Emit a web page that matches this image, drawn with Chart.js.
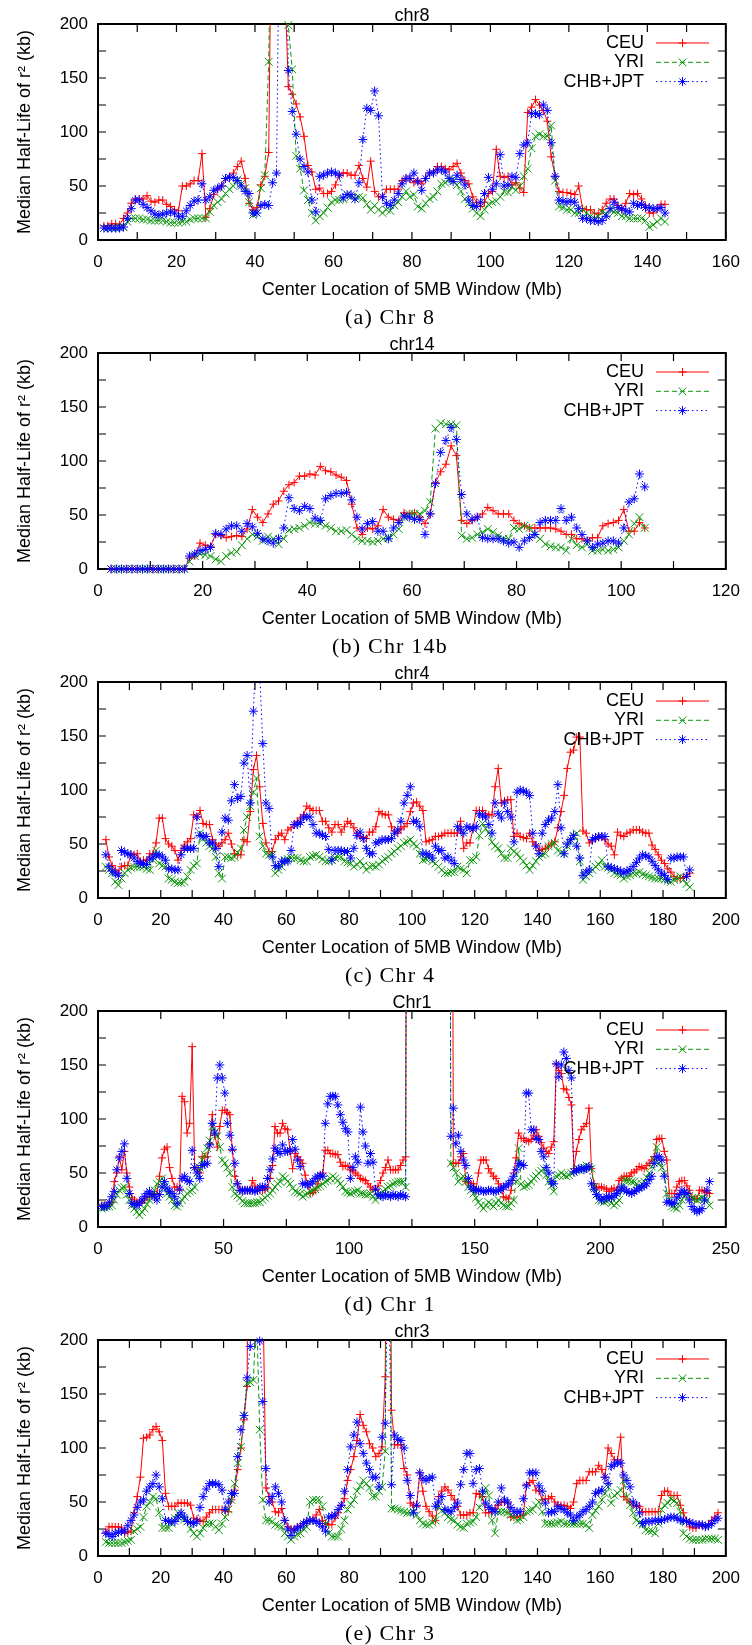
<!DOCTYPE html>
<html><head><meta charset="utf-8">
<script src="https://cdn.jsdelivr.net/npm/chart.js@4.4.1/dist/chart.umd.min.js"></script>
<style>
html,body{margin:0;padding:0;background:#fff;}
body{width:752px;height:1645px;overflow:hidden;}
canvas{display:block;}
</style></head>
<body>
<canvas id="p0" width="752" height="329"></canvas>
<canvas id="p1" width="752" height="329"></canvas>
<canvas id="p2" width="752" height="329"></canvas>
<canvas id="p3" width="752" height="329"></canvas>
<canvas id="p4" width="752" height="329"></canvas>
<script>
// ---------- shared text ----------
const xAxisLabel = "Center Location of 5MB Window (Mb)";
const yAxisLabel = "Median Half-Life of r\u00B2 (kb)";
const seriesNames = ["CEU", "YRI", "CHB+JPT"];
const yTicks = [0, 50, 100, 150, 200];

// ---------- chr8 (window centres start at 1.5 Mb, 1 Mb apart) ----------
const chr8Title = "chr8", chr8Caption = "(a) Chr 8";
const chr8XMax = 160, chr8XStep = 20, chr8XMinor = 10, chr8First = 1.5;
const chr8CEU = [13,13,15,15,14,20,25,34,38,38, 38,41,36,35,37,37,33,31,28,27, 50,50,52,55,55,80,21,29,42,47,
 50,57,58,62,68,73,57,34,28,30, 51,59,81,400,400,400,250,142,135,126, 114,96,69,63,47,48,43,43,45,51,
 60,62,62,60,60,69,57,49,73,45, 40,40,47,47,47,47,55,57,57,53, 55,52,57,62,63,68,68,66,65,68,
 71,62,55,52,40,35,31,35,43,45, 84,59,58,59,51,53,48,44,118,123, 130,125,120,110,77,59,45,44,44,43,
 42,50,29,28,28,25,24,28,34,38, 38,32,28,34,43,42,43,38,32,25, 25,29,33,33];
const chr8YRI = [11,11,11,11,12,12,17,20,20,20, 19,19,18,18,18,18,17,16,16,16, 17,17,19,20,20,20,20,26,32,35,
 38,43,47,50,56,52,48,35,23,25, 48,60,165,400,400,400,400,199,158,78, 66,46,37,25,18,22,25,30,35,37,
 37,38,42,40,38,40,39,33,28,32, 28,25,28,27,32,35,40,45,40,42, 31,29,34,38,40,45,52,53,56,55,
 51,45,38,34,29,25,22,28,33,35, 36,40,45,44,49,46,50,59,66,85, 96,98,96,96,106,55,31,30,28,28,
 25,25,28,25,22,20,22,26,24,28, 26,25,22,22,20,20,20,20,18,12, 14,17,20,17];
const chr8CHB = [11,11,11,11,11,12,20,29,37,37, 33,30,27,24,23,24,25,26,25,22, 22,27,32,36,37,52,37,40,46,48,
 50,57,58,58,55,50,45,43,25,25, 32,33,32,53,62,400,400,157,119,98, 75,68,63,37,26,59,60,62,63,62,
 60,39,42,42,38,53,93,122,120,138, 115,40,34,32,37,43,52,57,57,62, 54,46,57,62,62,65,65,63,57,54,
 60,56,51,37,32,31,35,43,58,47, 52,79,50,51,59,58,80,88,90,117, 117,116,125,120,90,59,37,36,35,36,
 35,29,20,20,18,18,17,18,22,29, 35,30,29,27,26,34,32,33,30,30, 29,29,30,25];

// ---------- chr14 ----------
const chr14Title = "chr14", chr14Caption = "(b) Chr 14b";
const chr14XMax = 120, chr14XStep = 20, chr14XMinor = 10, chr14First = 2.5;
const chr14CEU = [0,0,0,0,0,0,0,0,0,0, 0,0,0,0,0, 10,12,24,22,21,32,31,29,30,31, 30,37,55,48,43,51,60,63,72,78,
 80,86,86,88,87,95,91,90,87,85, 82,60,38,32,38,37,40,55,48,46, 45,52,51,52,48,42,51,80,90,97,
 114,105,45,42,45,48,51,57,54,51, 51,51,45,42,40,38,38,38,38,38, 37,35,32,32,28,28,26,29,29,40,
 42,43,45,55,35,35,43,38];
const chr14YRI = [0,0,0,0,0,0,0,0,0,0, 0,0,0,0,0, 7,12,14,13,12,9,7,12,15,16, 22,28,32,30,26,30,28,23,28,36,
 37,38,40,43,42,42,40,38,35,35, 36,32,28,26,26,25,26,28,29,32, 37,48,51,51,51,54,62,130,135,134,
 134,133,31,28,29,32,34,37,34,31, 28,28,38,37,40,38,32,28,23,21, 20,20,17,28,22,20,23,17,17,18,
 17,18,20,26,32,42,48,38];
const chr14CHB = [0,0,0,0,0,0,0,0,0,0, 0,0,0,0,0, 12,14,17,18,20,33,32,37,40,40, 35,42,39,33,28,26,24,28,38,66,
 56,54,58,56,47,45,65,68,70,70, 71,64,48,37,42,44,35,35,28,38, 43,49,48,46,46,32,51,79,108,119,
 131,120,69,51,46,48,29,28,28,28, 26,24,25,20,26,29,32,43,45,45, 45,56,45,48,38,32,26,20,23,24,
 26,26,24,38,62,65,88,76];

// ---------- chr4 ----------
const chr4Title = "chr4", chr4Caption = "(c) Chr 4";
const chr4XMax = 200, chr4XStep = 20, chr4XMinor = 10, chr4First = 2.5;
const chr4CEU = [54,38,30,26,23,29,30,30,40,40, 41,34,35,35,41,41,51,74,74,55, 50,48,44,35,44,49,52,55,77,75,
 81,69,68,68,54,50,48,51,54,60, 50,41,40,40,54,52,80,119,132,103, 69,51,43,43,54,58,60,54,63,65,
 68,71,74,77,85,83,81,81,81,71, 71,65,61,68,68,61,66,71,69,65, 60,57,56,55,61,61,66,80,78,77,
 77,66,62,60,64,66,69,80,88,89, 85,81,52,53,54,57,57,58,60,60, 60,60,60,71,46,51,51,65,81,81,
 81,78,77,77,103,120,88,90,91,91, 57,60,57,56,55,60,52,49,44,45, 46,48,50,52,65,80,95,120,135,137,
 149,149,62,60,51,53,55,56,57,54, 50,48,40,61,58,57,60,61,63,63, 63,61,60,60,49,45,40,35,32,27,
 24,20,18,18,19,20,23];
const chr4YRI = [29,26,23,15,12,18,23,26,28,29, 29,29,29,27,26,35,44,32,30,29, 18,17,15,14,14,15,20,26,30,32,
 60,55,51,48,46,38,23,18,38,38, 37,38,42,46,63,75,85,98,111,57, 48,41,40,40,23,26,29,35,36,37,
 37,37,35,34,34,38,39,40,38,36, 34,34,35,37,38,38,34,33,32,29, 31,34,30,26,29,30,29,31,34,36,
 38,41,43,46,48,51,52,54,50,48, 41,35,36,37,34,32,29,26,23,23, 24,24,29,27,26,23,35,35,38,58,
 69,64,60,52,48,46,41,37,37,46, 43,41,37,34,30,26,30,34,38,40, 41,48,50,51,44,42,41,48,52,57,
 60,34,17,20,23,26,29,31,35,29, 28,26,23,22,21,18,20,21,23,23, 24,22,21,20,19,18,18,18,17,16,
 15,17,18,20,17,13,10];
const chr4CHB = [40,29,25,23,21,44,42,41,40,37, 34,32,32,31,36,38,40,40,38,35, 27,27,26,26,40,46,46,46,46,75,
 58,57,57,51,51,46,29,61,74,72, 90,105,92,94,125,132,88,173,240,210, 143,88,83,38,30,29,34,34,34,44,
 68,68,70,75,75,75,68,60,60,58, 57,45,35,44,44,44,43,43,37,46, 58,61,55,46,41,41,51,52,54,54,
 54,55,60,63,71,88,95,103,71,71, 66,41,41,40,37,48,44,44,37,38, 35,32,66,63,60,66,65,64,66,78,
 76,75,68,60,88,78,74,88,80,75, 52,98,100,99,98,95,60,48,41,60, 68,72,74,80,105,65,41,50,54,58,
 48,37,21,24,26,54,56,57,57,57, 29,28,27,26,25,23,25,26,29,33, 37,40,39,38,34,30,26,23,21,17,
 37,37,38,38,38,20,26];

// ---------- chr1 ----------
const chr1Title = "Chr1", chr1Caption = "(d) Chr 1";
const chr1XMax = 250, chr1XStep = 50, chr1XMinor = 25, chr1First = 1.5;
const chr1CEU = [20,20,20,21,23,42,50,65,53,70, 50,37,27,25,23,23,23,25,28,28, 30,31,31,47,64,72,74,55,45,37,
 37,34,121,116,87,96,167,55,53,50, 65,65,65,77,104,85,74,93,108,108, 106,104,71,47,40,34,34,34,34,34,
 43,38,34,34,34,35,36,45,57,93, 87,87,96,91,90,70,54,68,65,62, 59,48,40,31,32,34,40,47,50,71,
 71,68,68,67,67,60,56,57,56,53, 52,50,48,45,44,43,40,37,35,34, 38,43,50,55,62,53,53,53,53,57,
 62,65,1000,1000,1000,1000,1000,1000,1000,1000, 1000,1000,1000,1000,1000,1000,1000,1000,1000,1000,
 59,59,59,65,68,42,41,40,40,34, 50,62,62,62,54,50,47,45,40,37, 28,27,26,34,50,64,87,82,82,80,
 79,81,85,90,84,78,73,70,68,74, 79,151,145,142,128,127,120,113,54,70, 81,90,93,96,110,54,40,36,37,37,
 36,35,33,35,36,34,43,45,47,47, 47,50,51,53,56,55,54,57,59,62, 65,81,82,82,70,62,31,31,31,37,
 42,43,43,38,34,28,26,26,34,34, 33,32,31];
const chr1YRI = [17,18,19,19,20,25,30,34,36,37, 30,25,20,17,14,11,14,17,21,25, 30,34,40,42,45,37,31,28,25,20,
 19,22,25,28,31,33,34,37,50,55, 62,67,73,80,93,88,84,74,62,59, 55,50,37,31,29,27,24,22,22,22,
 22,22,23,23,25,27,29,31,34,37, 40,42,47,45,42,40,36,33,32,31, 28,30,31,33,34,35,37,38,40,42,
 43,45,47,45,43,40,37,33,32,31, 32,33,34,31,31,30,30,31,28,25, 28,31,33,35,37,38,40,41,42,42,
 42,37,1000,1000,1000,1000,1000,1000,1000,1000, 1000,1000,1000,1000,1000,1000,1000,1000,1000,59,
 55,50,42,45,47,42,37,34,31,27, 23,20,17,20,23,21,19,22,25,22, 20,19,19,22,25,42,73,40,37,38,
 39,42,45,47,50,52,54,48,42,38, 33,47,48,50,48,47,48,50,51,53, 53,54,55,57,55,54,37,30,25,24,
 23,24,25,22,20,22,25,35,43,43, 43,42,42,40,37,40,42,46,50,56, 62,74,59,55,50,31,25,19,18,17,
 20,25,28,31,29,27,26,25,26,27, 26,25,20];
const chr1CHB = [19,19,19,23,28,33,53,64,70,77, 45,31,22,21,20,22,25,28,31,33, 30,28,25,30,37,42,36,33,31,28,
 22,35,45,47,43,42,71,55,50,45, 57,58,59,76,96,87,138,150,138,124, 96,85,72,59,40,34,34,34,34,34,
 34,33,34,37,37,37,45,53,63,73, 70,68,76,70,70,71,81,72,62,56, 40,40,39,40,42,45,47,48,47,96,
 114,121,121,121,113,104,97,91,88,45, 55,65,60,111,88,75,59,68,60,35, 30,29,28,30,29,28,30,29,28,30,
 29,28,1000,1000,1000,1000,1000,1000,1000,1000, 1000,1000,1000,1000,1000,1000,1000,1000,1000,84,
 110,77,85,70,62,57,45,37,35,34, 34,34,33,33,34,34,33,33,34,35, 37,38,40,43,47,53,59,58,57,124,
 124,90,90,82,81,70,65,55,50,42, 40,151,139,150,162,156,145,138,51,52, 54,54,53,55,56,40,35,30,28,25,
 26,28,28,27,29,31,34,37,35,33, 32,31,33,34,36,37,38,40,44,47, 59,65,65,62,47,23,23,22,22,27,
 30,34,32,31,25,19,16,14,15,17, 25,34,42];

// ---------- chr3 ----------
const chr3Title = "chr3", chr3Caption = "(e) Chr 3";
const chr3XMax = 200, chr3XStep = 20, chr3XMinor = 10, chr3First = 2.5;
const chr3CEU = [22,27,27,27,27,26,21,22,23,40, 55,73,109,110,112,117,120,115,107,58, 46,46,46,49,49,49,49,47,35,34,
 33,32,36,40,43,43,43,43,42,41, 52,61,80,100,126,157,600,600,600,600, 250,63,55,50,41,40,44,33,27,25,
 24,27,28,30,32,33,33,38,43,33, 30,29,29,35,40,47,53,70,80,92, 107,131,121,115,104,100,92,95,101,166,
 600,135,103,103,103,81,75,49,47,46, 77,60,46,41,37,33,55,60,64,61, 56,52,46,38,38,38,40,40,58,57,
 55,40,40,41,44,47,50,50,49,36, 36,36,37,38,66,68,70,61,60,52, 53,53,55,50,47,47,47,46,44,50,
 67,70,70,70,78,78,78,84,80,73, 100,95,89,89,110,55,52,50,47,46, 46,41,41,41,41,41,41,56,60,60,
 56,56,56,47,40,33,27,26,26,29, 28,27,29,33,36,40];
const chr3YRI = [13,12,12,12,12,12,13,14,15,23, 25,27,36,46,50,55,53,40,26,26, 26,30,35,40,36,34,32,25,21,18,
 21,26,30,30,30,27,24,30,36,43, 52,67,86,101,130,160,161,163,230,117, 52,33,33,32,29,28,27,21,18,15,
 18,20,21,25,27,50,52,52,52,46, 30,21,18,18,18,25,33,43,48,52, 60,65,70,67,63,55,55,60,64,97,
 600,44,44,43,42,41,40,40,41,38, 33,30,29,29,31,33,46,42,40,36, 34,33,29,27,26,30,31,32,36,45,
 56,63,56,33,21,41,41,41,40,38, 36,33,34,36,41,42,43,47,50,41, 30,30,30,30,31,32,30,30,30,30,
 30,30,30,29,26,38,42,46,52,58, 64,49,56,58,61,70,55,47,40,33, 31,29,24,23,23,21,30,43,47,49,
 53,51,49,41,21,18,16,15,15,15, 15,16,16,16,16,15];
const chr3CHB = [21,20,18,21,22,23,23,28,33,38, 45,50,52,60,64,67,75,64,53,33, 32,32,32,36,40,36,32,31,30,32,
 45,55,62,67,67,67,66,61,43,50, 58,58,92,117,130,165,194,300,300,199, 143,81,50,55,64,58,50,33,25,19,
 24,26,27,30,32,33,33,32,30,27, 23,36,37,38,43,47,60,80,101,112, 124,104,95,86,80,73,73,64,110,123,
 300,66,112,108,107,100,70,56,40,47, 77,72,70,72,73,46,50,55,43,42, 41,45,49,66,80,95,95,67,80,81,
 60,49,45,43,41,50,63,52,50,45, 41,41,41,53,65,77,77,77,65,60, 49,40,41,41,46,44,43,40,38,33,
 36,38,41,43,46,50,58,60,61,73, 67,83,85,87,86,75,70,64,50,47, 40,30,32,32,32,33,33,33,34,35,
 36,36,35,33,33,32,31,30,29,29, 29,27,28,30,33,35];

// ---------- drawing ----------
const SANS = "'Liberation Sans', Arial, Helvetica, sans-serif";
const SERIF = "'Liberation Serif', 'Times New Roman', serif";
Chart.defaults.font.family = SANS;
Chart.defaults.color = '#000';

const styles = [
  {color:'#ff0000', dash:[], point:'cross', r:4},
  {color:'#0a960a', dash:[5,3], point:'crossRot', r:5.5},
  {color:'#0000ff', dash:[1.5,3], point:'star', r:4.5}
];

const panels = [
  {title:chr8Title, caption:chr8Caption, xmax:chr8XMax, step:chr8XStep, minor:chr8XMinor, first:chr8First, series:[chr8CEU, chr8YRI, chr8CHB]},
  {title:chr14Title, caption:chr14Caption, xmax:chr14XMax, step:chr14XStep, minor:chr14XMinor, first:chr14First, series:[chr14CEU, chr14YRI, chr14CHB]},
  {title:chr4Title, caption:chr4Caption, xmax:chr4XMax, step:chr4XStep, minor:chr4XMinor, first:chr4First, series:[chr4CEU, chr4YRI, chr4CHB]},
  {title:chr1Title, caption:chr1Caption, xmax:chr1XMax, step:chr1XStep, minor:chr1XMinor, first:chr1First, series:[chr1CEU, chr1YRI, chr1CHB]},
  {title:chr3Title, caption:chr3Caption, xmax:chr3XMax, step:chr3XStep, minor:chr3XMinor, first:chr3First, series:[chr3CEU, chr3YRI, chr3CHB]}
];

function toPoints(first, vals){ return vals.map((v,i)=>({x:first+i, y:v})); }

function marker(ctx, style, x, y, r){
  ctx.beginPath();
  if (style==='cross' || style==='star'){
    ctx.moveTo(x, y-r); ctx.lineTo(x, y+r);
    ctx.moveTo(x-r, y); ctx.lineTo(x+r, y);
  }
  if (style==='crossRot' || style==='star'){
    const o = r*Math.SQRT1_2;
    ctx.moveTo(x-o, y-o); ctx.lineTo(x+o, y+o);
    ctx.moveTo(x-o, y+o); ctx.lineTo(x+o, y-o);
  }
  ctx.stroke();
}

function makePlugin(p){
  return {
    id:'deco',
    beforeDatasetsDraw(chart){
      const ctx = chart.ctx, a = chart.chartArea, xs = chart.scales.x, ys = chart.scales.y;
      ctx.save();
      ctx.strokeStyle = '#000'; ctx.lineWidth = 1.2;
      ctx.beginPath();
      for (let v = 0; v <= p.xmax + 1e-9; v += p.minor){
        const px = xs.getPixelForValue(v);
        ctx.moveTo(px, a.bottom); ctx.lineTo(px, a.bottom - 8);
        ctx.moveTo(px, a.top); ctx.lineTo(px, a.top + 8);
      }
      for (let v = 0; v <= 200; v += 25){
        const py = ys.getPixelForValue(v);
        ctx.moveTo(a.left, py); ctx.lineTo(a.left + 8, py);
        ctx.moveTo(a.right, py); ctx.lineTo(a.right - 8, py);
      }
      ctx.stroke();
      ctx.lineWidth = 2;
      ctx.strokeRect(a.left, a.top, a.right - a.left, a.bottom - a.top);
      ctx.restore();
    },
    afterDraw(chart){
      const ctx = chart.ctx, a = chart.chartArea;
      ctx.save();
      ctx.fillStyle = '#000';
      ctx.font = `18px ${SANS}`;
      ctx.textAlign = 'center'; ctx.textBaseline = 'middle';
      ctx.fillText(p.title, (a.left + a.right)/2, a.top - 8);
      // legend
      ctx.font = `18px ${SANS}`;
      ctx.textAlign = 'right';
      for (let i = 0; i < 3; i++){
        const y = a.top + 19 + i*19.3;
        ctx.fillStyle = '#000';
        ctx.fillText(seriesNames[i], 644, y);
        const st = styles[i];
        ctx.strokeStyle = st.color; ctx.lineWidth = 1;
        ctx.setLineDash(st.dash);
        ctx.beginPath(); ctx.moveTo(656, y); ctx.lineTo(709, y); ctx.stroke();
        ctx.setLineDash([]);
        marker(ctx, st.point, 682.5, y, st.r);
      }
      // caption
      ctx.fillStyle = '#000';
      ctx.font = `22px ${SERIF}`;
      ctx.textAlign = 'center';
      try { ctx.letterSpacing = '1.2px'; } catch(e) {}
      ctx.fillText(p.caption, 390, 318);
      ctx.restore();
    }
  };
}

panels.forEach((p, idx) => {
  const datasets = [];
  p.series.forEach((vals, si) => {
    const st = styles[si];
    const data = toPoints(p.first, vals);
    datasets.push({label:seriesNames[si], data, borderColor:st.color, borderWidth:1, borderDash:st.dash,
      pointRadius:0, pointHoverRadius:0, fill:false, tension:0, order:10 - si*2});
    datasets.push({label:seriesNames[si]+' pts', data, showLine:false, borderColor:st.color,
      backgroundColor:'rgba(0,0,0,0)', pointStyle:st.point,
      pointRadius:(c) => (c.raw && c.raw.y > 200) ? 0 : st.r,
      pointBorderColor:st.color, pointBorderWidth:1, pointHoverRadius:0, clip:false, order:9 - si*2});
  });
  new Chart(document.getElementById('p' + idx), {
    type:'line',
    data:{datasets},
    options:{
      responsive:false, animation:false, devicePixelRatio:1,
      events:[],
      layout:{padding:{top:24, right:21, left:0, bottom:0}},
      plugins:{legend:{display:false}, tooltip:{enabled:false}},
      scales:{
        x:{type:'linear', min:0, max:p.xmax,
          afterFit(s){ s.height = 89; },
          grid:{display:false, drawTicks:false}, border:{display:false},
          ticks:{stepSize:p.step, font:{size:17}, color:'#000', padding:12, maxRotation:0, autoSkip:false},
          title:{display:true, text:xAxisLabel, font:{size:18}, color:'#000', padding:{top:0, bottom:28}}
        },
        y:{type:'linear', min:0, max:200,
          afterFit(s){ s.width = 98; },
          afterBuildTicks(s){ s.ticks = yTicks.map(v => ({value:v})); },
          grid:{display:false, drawTicks:false}, border:{display:false},
          ticks:{font:{size:17}, color:'#000', padding:10},
          title:{display:true, text:yAxisLabel, font:{size:18}, color:'#000', padding:{top:14, bottom:0}}
        }
      }
    },
    plugins:[makePlugin(p)]
  });
});
</script>
</body></html>
